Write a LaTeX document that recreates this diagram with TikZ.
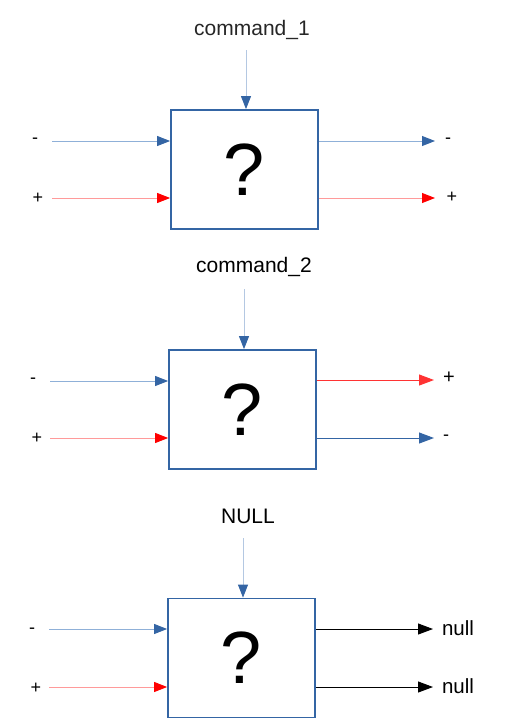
\documentclass[tikz,border=0pt]{standalone}
\usepackage{fontspec}
\setmainfont{Liberation Sans}
\usetikzlibrary{arrows.meta}
\definecolor{boxblue}{HTML}{3465A4}
\definecolor{paleblue}{HTML}{8FB0D8}
\definecolor{topblue}{HTML}{B4C8E2}
\definecolor{palered}{HTML}{FF9A9A}
\definecolor{headred}{HTML}{FF0000}
\definecolor{outred}{HTML}{FF3333}

\begin{document}
\begin{tikzpicture}[x=1pt,y=-1pt,
        qbox/.style={draw=boxblue,line width=1.8pt,minimum width=147pt,minimum height=119pt,inner sep=0pt,font=\fontsize{74}{74}\selectfont},
        cmd/.style={font=\fontsize{21}{24}\selectfont},
        sign/.style={font=\fontsize{18}{20}\selectfont},
        outlbl/.style={font=\fontsize{20.5}{24}\selectfont},
        bluein/.style={draw=paleblue,line width=0.9pt,-{Triangle[length=13pt,width=10pt,color=boxblue]}},
        redin/.style={draw=palered,line width=0.9pt,-{Triangle[length=13pt,width=10pt,color=headred]}},
        topin/.style={draw=topblue,line width=0.9pt,-{Triangle[length=13pt,width=10pt,color=boxblue]}},
        blueout/.style={draw=boxblue,line width=1pt,-{Triangle[length=15pt,width=11pt,color=boxblue]}},
        redout/.style={draw=outred,line width=1pt,-{Triangle[length=15pt,width=11pt,color=outred]}},
        blackout/.style={draw=black,line width=1pt,-{Triangle[length=15pt,width=11pt,color=black]}}]
    \useasboundingbox (0,0) rectangle (515,724);

    % first block
    \node (b1) [qbox] at (244.5,169.5) {?};
    \node (cmd1) [cmd,text=black!85] at (252,30) {command\_1};
    \coordinate (t1) at (246,50);
    \draw [topin] (t1) -- (t1 |- b1.north);
    \node (m1) [sign] at (35,141) {-};
    \node (p1) [sign] at (38,198) {+};
    \coordinate (m1s) at (52,141);
    \coordinate (p1s) at (52,198);
    \draw [bluein] (m1s) -- (b1.west |- m1s);
    \draw [redin] (p1s) -- (b1.west |- p1s);
    \coordinate (m1e) at (435,141);
    \coordinate (p1e) at (435,198);
    \draw [bluein] (b1.east |- m1e) -- (m1e);
    \draw [redin] (b1.east |- p1e) -- (p1e);
    \node (om1) [sign] at (448,141) {-};
    \node (op1) [sign] at (452,197) {+};

    % second block
    \node (b2) [qbox] at (242.5,409.5) {?};
    \node (cmd2) [cmd] at (254,267) {command\_2};
    \coordinate (t2) at (244,289);
    \draw [topin] (t2) -- (t2 |- b2.north);
    \node (m2) [sign] at (33,381) {-};
    \node (p2) [sign] at (37,438) {+};
    \coordinate (m2s) at (50,381);
    \coordinate (p2s) at (50,438);
    \draw [bluein] (m2s) -- (b2.west |- m2s);
    \draw [redin] (p2s) -- (b2.west |- p2s);
    \coordinate (p2e) at (434,380);
    \coordinate (m2e) at (434,438);
    \draw [redout] (b2.east |- p2e) -- (p2e);
    \draw [blueout] (b2.east |- m2e) -- (m2e);
    \node (op2) [sign,font=\fontsize{20}{22}\selectfont] at (449,378) {+};
    \node (om2) [sign] at (446,438) {-};

    % third block
    \node (b3) [qbox] at (241.5,658) {?};
    \node (null) [cmd] at (248,516) {NULL};
    \coordinate (t3) at (243,538);
    \draw [topin] (t3) -- (t3 |- b3.north);
    \node (m3) [sign] at (32,631) {-};
    \node (p3) [sign] at (36,688) {+};
    \coordinate (m3s) at (49,629);
    \coordinate (p3s) at (49,687);
    \draw [bluein] (m3s) -- (b3.west |- m3s);
    \draw [redin] (p3s) -- (b3.west |- p3s);
    \coordinate (n1e) at (433,629);
    \coordinate (n2e) at (433,687);
    \draw [blackout] (b3.east |- n1e) -- (n1e);
    \draw [blackout] (b3.east |- n2e) -- (n2e);
    \node (null1) [outlbl] at (458,628) {null};
    \node (null2) [outlbl] at (458,686) {null};
\end{tikzpicture}
\end{document}
